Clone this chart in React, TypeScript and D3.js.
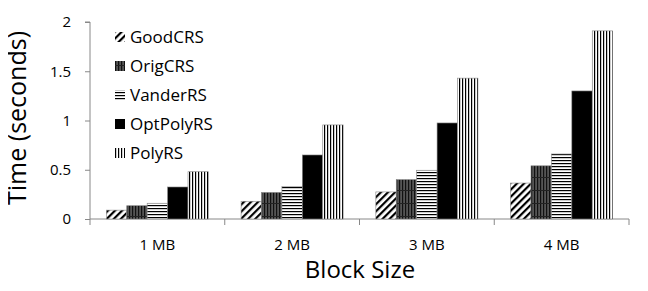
import React, { useRef, useEffect } from 'react';
import * as d3 from 'd3';

const blockSizes = ['1 MB', '2 MB', '3 MB', '4 MB'];
const seriesNames = ['GoodCRS', 'OrigCRS', 'VanderRS', 'OptPolyRS', 'PolyRS'];
const goodCRS = [0.09, 0.18, 0.275, 0.365];
const origCRS = [0.135, 0.27, 0.4, 0.54];
const vanderRS = [0.16, 0.33, 0.495, 0.66];
const optPolyRS = [0.325, 0.65, 0.975, 1.3];
const polyRS = [0.48, 0.955, 1.43, 1.91];
const yTicks = [0, 0.5, 1, 1.5, 2];

const seriesValues = [goodCRS, origCRS, vanderRS, optPolyRS, polyRS];

const App: React.FC = () => {
  const chartRef = useRef<SVGSVGElement | null>(null);

  useEffect(() => {
    if (!chartRef.current) return;
    d3.select(chartRef.current).selectAll('*').remove();

    const width = 648;
    const height = 291;
    const margin = { top: 22, right: 19, bottom: 72, left: 90 };
    const innerWidth = width - margin.left - margin.right;
    const innerHeight = height - margin.top - margin.bottom;
    const font = "'Open Sans', 'Liberation Sans', sans-serif";

    const svg = d3.select(chartRef.current)
      .attr('width', width)
      .attr('height', height)
      .style('display', 'block');

    // Patterns for the bars
    const defs = svg.append('defs');

    const good = defs.append('pattern')
      .attr('id', 'pat-good')
      .attr('patternUnits', 'userSpaceOnUse')
      .attr('width', 5).attr('height', 5)
      .attr('patternTransform', 'rotate(45)');
    good.append('rect').attr('width', 5).attr('height', 5).attr('fill', '#fff');
    good.append('rect').attr('width', 2.2).attr('height', 5).attr('fill', '#000');

    const orig = defs.append('pattern')
      .attr('id', 'pat-orig')
      .attr('patternUnits', 'userSpaceOnUse')
      .attr('width', 3).attr('height', 13);
    orig.append('rect').attr('width', 3).attr('height', 13).attr('fill', '#555');
    orig.append('rect').attr('width', 1.2).attr('height', 13).attr('fill', '#111');
    orig.append('rect').attr('y', 12).attr('width', 3).attr('height', 1).attr('fill', '#222');

    const vander = defs.append('pattern')
      .attr('id', 'pat-vander')
      .attr('patternUnits', 'userSpaceOnUse')
      .attr('width', 4).attr('height', 3);
    vander.append('rect').attr('width', 4).attr('height', 3).attr('fill', '#fff');
    vander.append('rect').attr('width', 4).attr('height', 1.2).attr('fill', '#000');

    const poly = defs.append('pattern')
      .attr('id', 'pat-poly')
      .attr('patternUnits', 'userSpaceOnUse')
      .attr('width', 3).attr('height', 4);
    poly.append('rect').attr('width', 3).attr('height', 4).attr('fill', '#fff');
    poly.append('rect').attr('width', 1.2).attr('height', 4).attr('fill', '#000');

    const fills = ['url(#pat-good)', 'url(#pat-orig)', 'url(#pat-vander)', '#000', 'url(#pat-poly)'];

    const g = svg.append('g')
      .attr('transform', `translate(${margin.left},${margin.top})`);

    // Scales
    const x0 = d3.scaleBand()
      .domain(blockSizes)
      .range([0, innerWidth])
      .padding(0);

    const x1 = d3.scaleBand()
      .domain(seriesNames)
      .range([0, x0.bandwidth()])
      .paddingOuter(0.8)
      .paddingInner(0);

    const y = d3.scaleLinear()
      .domain([0, 2])
      .range([innerHeight, 0]);

    // Y axis
    const yAxis = g.append('g')
      .call(d3.axisLeft(y).tickValues(yTicks).tickSize(5).tickPadding(14).tickFormat(d => String(d)));
    yAxis.select('.domain').attr('stroke', '#888').attr('d', `M-5,0H0V${innerHeight}`);
    yAxis.selectAll('.tick line').attr('stroke', '#888');
    yAxis.selectAll('.tick text')
      .attr('font-family', font)
      .attr('font-size', 15)
      .attr('fill', '#000');

    // X axis with ticks at category boundaries
    const xAxisG = g.append('g').attr('transform', `translate(0,${innerHeight})`);
    xAxisG.append('line')
      .attr('x1', 0).attr('x2', innerWidth)
      .attr('stroke', '#888');
    const boundaries = blockSizes.map(d => x0(d) || 0).concat([innerWidth]);
    xAxisG.selectAll('line.tick')
      .data(boundaries)
      .join('line')
      .attr('class', 'tick')
      .attr('x1', d => d).attr('x2', d => d)
      .attr('y1', 0).attr('y2', 6)
      .attr('stroke', '#888');
    xAxisG.selectAll('text')
      .data(blockSizes)
      .join('text')
      .attr('x', d => (x0(d) || 0) + x0.bandwidth() / 2)
      .attr('y', 31)
      .attr('text-anchor', 'middle')
      .attr('font-family', font)
      .attr('font-size', 15)
      .text(d => d);

    // Bars
    const barData = blockSizes.flatMap((cat, i) =>
      seriesNames.map((s, j) => ({ cat, s, j, v: seriesValues[j][i] })));

    g.append('g')
      .selectAll('rect')
      .data(barData)
      .join('rect')
      .attr('x', d => (x0(d.cat) || 0) + (x1(d.s) || 0))
      .attr('y', d => y(d.v))
      .attr('width', x1.bandwidth())
      .attr('height', d => innerHeight - y(d.v))
      .attr('fill', d => fills[d.j])
      .attr('stroke', '#888')
      .attr('stroke-width', 0.6);

    // Legend
    const legend = svg.append('g')
      .selectAll('g')
      .data(seriesNames)
      .join('g')
      .attr('transform', (d, i) => `translate(115,${37 + i * 29})`);

    legend.append('rect')
      .attr('x', 0)
      .attr('y', -5)
      .attr('width', 10)
      .attr('height', 10)
      .attr('fill', (d, i) => fills[i]);

    legend.append('text')
      .attr('x', 15)
      .attr('y', 0)
      .attr('dy', '0.35em')
      .attr('font-family', font)
      .attr('font-size', 17)
      .text(d => d);

    // Axis titles
    svg.append('text')
      .attr('x', 360)
      .attr('y', 278)
      .attr('text-anchor', 'middle')
      .attr('font-family', font)
      .attr('font-size', 24)
      .text('Block Size');

    svg.append('text')
      .attr('transform', `translate(26,118) rotate(-90)`)
      .attr('text-anchor', 'middle')
      .attr('font-family', font)
      .attr('font-size', 25)
      .text('Time (seconds)');
  }, []);

  return (
    <div style={{ margin: -8 }}>
      <svg ref={chartRef} />
    </div>
  );
};

export default App;
